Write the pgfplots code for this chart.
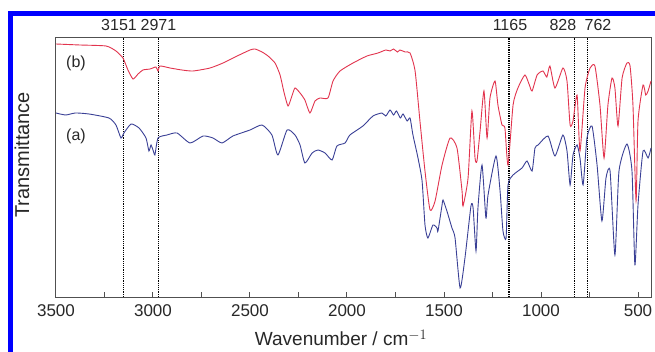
\documentclass[border=0pt]{standalone}
\usepackage{pgfplots}
\pgfplotsset{compat=1.18}
\usepackage{pgfplotstable}
\usepackage{fontspec}
\setmainfont{Liberation Sans}
\definecolor{redc}{RGB}{226,52,78}
\definecolor{bluec}{RGB}{58,64,150}
\definecolor{framec}{RGB}{0,0,255}
\definecolor{axc}{RGB}{80,80,80}
\definecolor{txc}{RGB}{40,40,40}

\pgfplotstableread{
wn val
3500 253
3376 252
3242 251
3191 246
3155 239
3129 227
3103 218
3077 223
3052 227
3015 228
2985 230
2974 226
2964 231
2912 229
2851 227
2794 226
2706 229
2639 234
2577 240
2500 247
2474 248
2438 245
2407 241
2371 234
2345 222
2325 205
2304 191
2284 201
2268 209
2242 204
2217 197
2191 184
2165 196
2139 199
2098 199
2072 216
2036 226
1969 234
1897 241
1840 244
1800 247
1778 246
1760 248
1740 245
1727 247
1700 245
1675 244
1649 226
1624 176
1598 126
1572 87
1546 96
1510 132
1469 159
1433 149
1407 106
1402 91
1376 119
1356 186
1340 139
1330 136
1314 166
1294 206
1278 159
1263 199
1237 216
1222 192
1201 172
1186 169
1170 132
1144 192
1119 209
1083 222
1060 212
1046 206
1020 222
990 226
970 220
954 231
928 209
887 229
866 216
850 172
835 176
814 202
799 146
773 209
747 229
722 231
696 192
675 139
655 192
634 219
619 209
603 171
582 219
557 234
541 231
526 192
510 96
500 176
474 212
460 202
448 206
433 216
}\redtab

\pgfplotstableread{
wn val
3500 184
3450 182
3400 184
3330 183
3227 179
3191 172
3165 159
3150 164
3113 173
3072 169
3036 159
3021 146
3010 152
2995 144
2990 142
2974 159
2928 162
2876 164
2809 154
2742 161
2691 159
2644 154
2588 161
2500 167
2438 172
2387 162
2356 142
2309 167
2268 162
2242 152
2217 134
2180 144
2150 147
2113 144
2077 137
2052 151
2010 154
1985 162
1918 171
1866 181
1820 184
1800 181
1778 187
1760 182
1745 186
1725 179
1711 183
1690 176
1675 179
1660 162
1634 139
1613 116
1598 72
1583 59
1557 72
1536 69
1531 66
1510 92
1505 97
1485 86
1459 69
1443 59
1417 9
1392 39
1361 91
1350 89
1335 46
1325 89
1304 132
1284 79
1273 102
1232 141
1211 106
1196 66
1180 59
1170 112
1144 122
1098 129
1072 136
1046 126
1031 149
1015 152
964 161
928 141
887 162
866 146
850 112
835 142
814 152
799 139
783 112
763 159
737 171
711 132
686 76
665 119
644 126
619 42
598 126
557 153
531 126
516 32
500 92
474 146
448 139
433 149
}\bluetab

\begin{document}
\begin{tikzpicture}
\useasboundingbox (0pt,0pt) rectangle (655pt,351pt);
\fill[white] (0pt,0pt) rectangle (655pt,351pt);
\draw[framec, line width=5pt] (10.3pt,-5pt) -- (10.3pt,337.5pt) -- (660pt,337.5pt);
\begin{axis}[
  at={(353.5pt,183.5pt)}, anchor=center,
  width=595pt, height=259pt, scale only axis,
  x dir=reverse, xmin=433, xmax=3500, ymin=0, ymax=259,
  axis line style={axc, line width=1pt},
  xtick={500,1000,...,3500}, minor xtick={750,1250,...,3250},
  xtick pos=lower, tick align=inside, ytick=\empty,
  major tick length=5pt, minor tick length=5pt,
  every tick/.style={axc, line width=1pt},
  every minor tick/.style={axc, line width=1pt},
  xticklabel style={font=\fontsize{17}{17}\selectfont, text=txc, yshift=-4pt},
  /pgf/number format/assume math mode=true,
  /pgf/number format/1000 sep={},
  clip=false,
]
\addplot[black, densely dotted, line width=1.2pt] coordinates {(3151,0) (3151,259)};
\addplot[black, densely dotted, line width=1.2pt] coordinates {(2971,0) (2971,259)};
\addplot[black, densely dotted, line width=1.2pt] coordinates {(1165,0) (1165,259)};
\addplot[black, densely dotted, line width=1.2pt] coordinates {(828,0) (828,259)};
\addplot[black, densely dotted, line width=1.2pt] coordinates {(762,0) (762,259)};
\addplot[bluec, line width=0.9pt, smooth, tension=0.35] table[x=wn, y=val] {\bluetab};
\addplot[redc, line width=0.9pt, smooth, tension=0.35] table[x=wn, y=val] {\redtab};
\node[font=\fontsize{16}{16}\selectfont, text=txc] at (axis cs:3175,272) {3151};
\node[font=\fontsize{16}{16}\selectfont, text=txc] at (axis cs:2972,272) {2971};
\node[font=\fontsize{16}{16}\selectfont, text=txc] at (axis cs:1160,272) {1165};
\node[font=\fontsize{16}{16}\selectfont, text=txc] at (axis cs:887,272) {828};
\node[font=\fontsize{16}{16}\selectfont, text=txc] at (axis cs:706,272) {762};
\node[font=\fontsize{16}{16}\selectfont, text=txc] at (axis cs:3397,234) {(b)};
\node[font=\fontsize{16}{16}\selectfont, text=txc] at (axis cs:3397,161) {(a)};
\end{axis}
\node[rotate=90, font=\fontsize{20}{20}\selectfont, text=txc] at (22pt,196pt) {Transmittance};
\node[font=\fontsize{19}{19}\selectfont, text=txc, inner sep=0pt] at (341pt,13pt) {Wavenumber / cm$^{-1}$};
\end{tikzpicture}
\end{document}
